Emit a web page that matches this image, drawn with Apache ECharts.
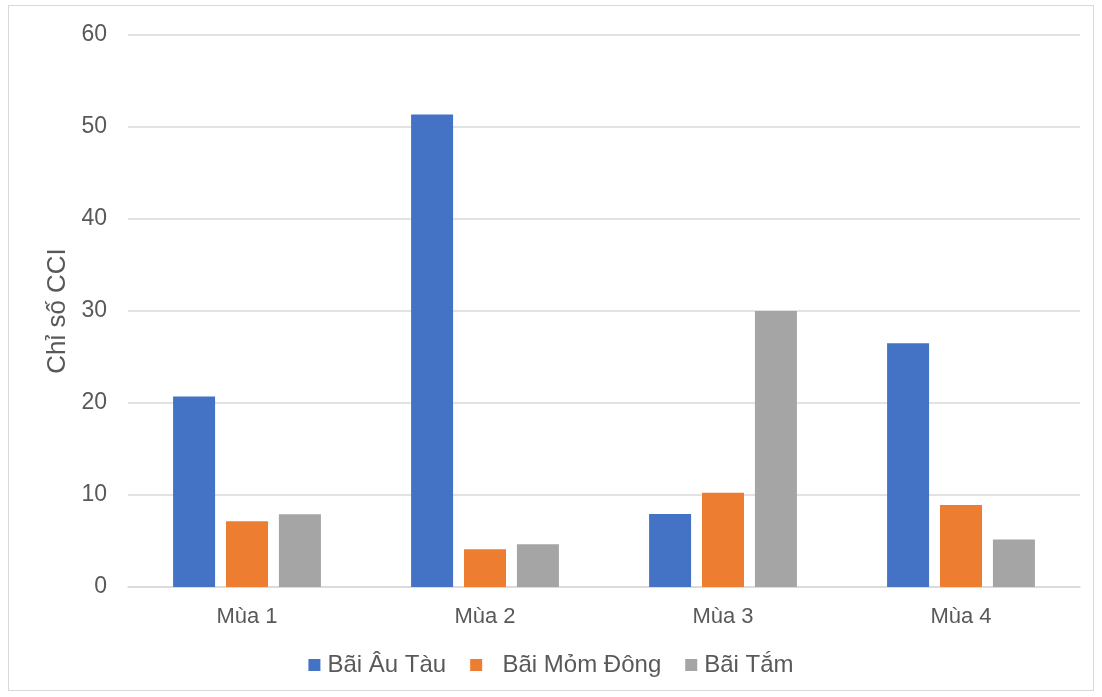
<!DOCTYPE html>
<html>
<head>
<meta charset="utf-8">
<script src="https://cdn.jsdelivr.net/npm/echarts@6/dist/echarts.min.js"></script>
<style>
  html, body { margin: 0; padding: 0; background: #fff; }
  #frame { position: absolute; left: 8px; top: 5px; width: 1086px; height: 686px; border: 1px solid #d9d9d9; box-sizing: border-box; }
  #chart { position: absolute; left: 0; top: 0; width: 1102px; height: 697px; }
</style>
</head>
<body>
<div id="frame"></div>
<div id="chart"></div>
<script>
// Seasons on the x axis
const seasons = ['Mùa 1', 'Mùa 2', 'Mùa 3', 'Mùa 4'];
// CCI index per beach
const baiAuTau = [20.7, 51.35, 7.93, 26.5];
const baiMomDong = [7.15, 4.1, 10.25, 8.9];
const baiTam = [7.9, 4.65, 30.0, 5.15];
const seriesNames = ['Bãi Âu Tàu', 'Bãi Mỏm Đông', 'Bãi Tắm'];
const yTicks = { min: 0, max: 60, interval: 10 };

const textColor = '#595959';
const font = 'Liberation Sans, Arial, sans-serif';

const chart = echarts.init(document.getElementById('chart'), null, { renderer: 'canvas' });
chart.setOption({
  animation: false,
  color: ['#4472c4', '#ed7d31', '#a5a5a5'],
  grid: { left: 128, right: 22, top: 35, bottom: 110 },
  legend: {
    bottom: 15,
    left: 'center',
    itemWidth: 12,
    itemHeight: 12,
    itemGap: 24,
    icon: 'rect',
    textStyle: { color: textColor, fontSize: 24, fontFamily: font, padding: [0, 0, 0, 2] },
    formatter: function (name) {
      return name === seriesNames[1] ? '  ' + name : name;
    },
    data: seriesNames
  },
  xAxis: {
    type: 'category',
    data: seasons,
    axisLine: { show: true, lineStyle: { color: '#d9d9d9', width: 1.5 } },
    axisTick: { show: false },
    axisLabel: { color: textColor, fontSize: 22, fontFamily: font, margin: 19 }
  },
  yAxis: {
    type: 'value',
    min: yTicks.min,
    max: yTicks.max,
    interval: yTicks.interval,
    name: 'Chỉ số CCI',
    nameLocation: 'middle',
    nameGap: 56,
    nameTextStyle: { color: textColor, fontSize: 26, fontFamily: font },
    axisLine: { show: false },
    axisTick: { show: false },
    axisLabel: { color: textColor, fontSize: 23, fontFamily: font, margin: 21 },
    splitLine: { lineStyle: { color: '#d9d9d9', width: 1.5 } }
  },
  series: [
    { name: seriesNames[0], type: 'bar', data: baiAuTau, barWidth: 42, barGap: '26%' },
    { name: seriesNames[1], type: 'bar', data: baiMomDong, barWidth: 42, barGap: '26%' },
    { name: seriesNames[2], type: 'bar', data: baiTam, barWidth: 42, barGap: '26%' }
  ]
});
</script>
</body>
</html>
